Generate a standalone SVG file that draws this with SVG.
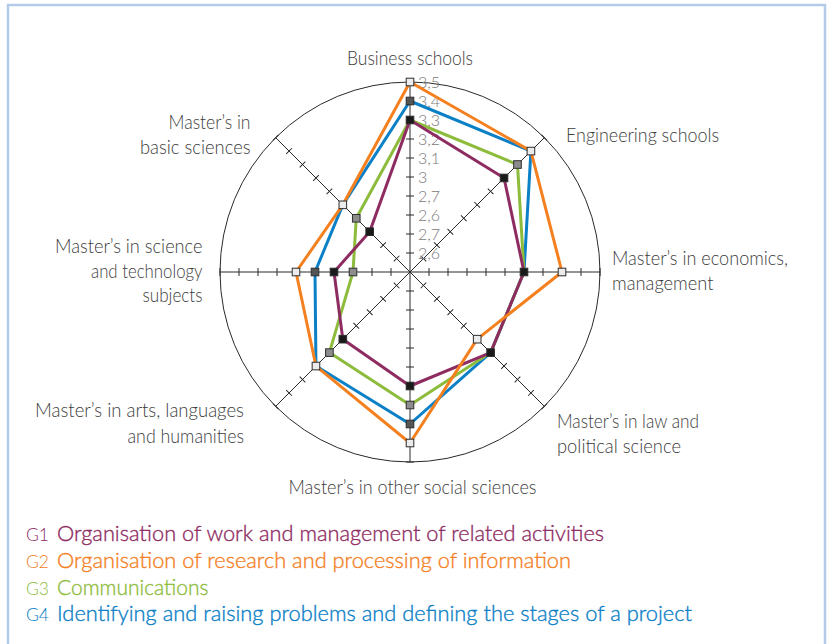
<svg xmlns="http://www.w3.org/2000/svg" width="830" height="644" viewBox="0 0 830 644">
<style>
.lbl{font-family:Lato,"Liberation Sans",Arial,sans-serif;font-weight:300;font-size:20px;fill:#3c3c3c}
.tk{font-family:Lato,"Liberation Sans",Arial,sans-serif;font-weight:300;font-size:16px;fill:#7a7a7a}
.axis{stroke:#2a2a2a;stroke-width:1;fill:none}
.ticks{stroke:#2a2a2a;stroke-width:8;stroke-dasharray:1 18;fill:none}
.ser{fill:none;stroke-width:3;stroke-linejoin:round}
.g1{stroke:#8e2c62}.g2{stroke:#f4801f}.g3{stroke:#8dbc3c}.g4{stroke:#0b80c6}
.m{stroke:#2e2e2e;stroke-width:1}
.leg{font-family:Lato,"Liberation Sans",Arial,sans-serif;font-weight:300;font-size:21px;stroke-width:0.35}
.legn{font-family:Lato,"Liberation Sans",Arial,sans-serif;font-weight:300;font-size:18px}
</style>
<defs>
<rect id="mk" x="-3.8" y="-3.8" width="7.6" height="7.6"/>
</defs>
<rect width="830" height="644" fill="#ffffff"/>
<path d="M8,644 V5 H825 V644" fill="none" stroke="#b3cae8" stroke-width="2.5"/>

<g id="grid">
<circle cx="410" cy="272" r="190" class="axis" stroke-width="1.2"/>
<line x1="410" y1="82" x2="410" y2="462" class="axis" stroke="#555" stroke-width="1.4"/>
<line x1="220" y1="272" x2="600" y2="272" class="axis"/>
<line x1="275.65" y1="137.65" x2="544.35" y2="406.35" class="axis"/>
<line x1="275.65" y1="406.35" x2="544.35" y2="137.65" class="axis"/>
<line x1="410" y1="253.5" x2="410" y2="81.5" class="ticks"/>
<line x1="410" y1="290.5" x2="410" y2="462.5" class="ticks"/>
<line x1="428.5" y1="272" x2="600.5" y2="272" class="ticks"/>
<line x1="391.5" y1="272" x2="219.5" y2="272" class="ticks"/>
<line x1="423.08" y1="258.92" x2="544.7" y2="137.3" class="ticks"/>
<line x1="423.08" y1="285.08" x2="544.7" y2="406.7" class="ticks"/>
<line x1="396.92" y1="285.08" x2="275.3" y2="406.7" class="ticks"/>
<line x1="396.92" y1="258.92" x2="275.3" y2="137.3" class="ticks"/>
</g>

<g id="scale-labels" class="tk">
<text x="418" y="88">3,5</text>
<text x="418" y="107">3,4</text>
<text x="418" y="126">3,3</text>
<text x="418" y="145">3,2</text>
<text x="418" y="164">3,1</text>
<text x="418" y="183">3</text>
<text x="418" y="202">2,7</text>
<text x="418" y="221">2,6</text>
<text x="418" y="240">2,7</text>
<text x="418" y="259">2,6</text>
</g>

<g id="series-lines">
<polygon class="ser g4" points="410,101 530.92,151.08 524,272 490.61,352.61 410,424 315.95,366.05 315,272 342.82,204.82"/>
<polygon class="ser g3" points="410,120 517.48,164.52 524,272 490.61,352.61 410,405 329.39,352.61 353,272 356.26,218.26"/>
<polygon class="ser g1" points="410,120 504.05,177.95 524,272 490.61,352.61 410,386 342.82,339.18 334,272 369.69,231.69"/>
<polygon class="ser g2" points="410,82 530.92,151.08 562,272 477.18,339.18 410,443 315.95,366.05 296,272 342.82,204.82"/>
</g>

<g id="markers" class="m">
<g fill="#555555">
<use href="#mk" x="410" y="101"/><use href="#mk" x="410" y="424"/><use href="#mk" x="315" y="272"/>
</g>
<g fill="#8c8c8c">
<use href="#mk" x="517.48" y="164.52"/><use href="#mk" x="410" y="405"/><use href="#mk" x="329.39" y="352.61"/><use href="#mk" x="353" y="272"/><use href="#mk" x="356.26" y="218.26"/>
</g>
<g fill="#ececec">
<use href="#mk" x="410" y="82"/><use href="#mk" x="530.92" y="151.08"/><use href="#mk" x="562" y="272"/><use href="#mk" x="477.18" y="339.18"/><use href="#mk" x="410" y="443"/><use href="#mk" x="315.95" y="366.05"/><use href="#mk" x="296" y="272"/><use href="#mk" x="342.82" y="204.82"/>
</g>
<g fill="#1a1a1a">
<use href="#mk" x="410" y="120"/><use href="#mk" x="504.05" y="177.95"/><use href="#mk" x="524" y="272"/><use href="#mk" x="490.61" y="352.61"/><use href="#mk" x="410" y="386"/><use href="#mk" x="342.82" y="339.18"/><use href="#mk" x="334" y="272"/><use href="#mk" x="369.69" y="231.69"/>
</g>
</g>

<g id="axis-labels" class="lbl">
<text x="347" y="65" textLength="126" lengthAdjust="spacingAndGlyphs">Business schools</text>
<text x="566" y="142" textLength="153" lengthAdjust="spacingAndGlyphs">Engineering schools</text>
<text x="612" y="265" textLength="176" lengthAdjust="spacingAndGlyphs">Master’s in economics,</text>
<text x="612" y="290" textLength="101.5" lengthAdjust="spacingAndGlyphs">management</text>
<text x="557" y="428" textLength="142" lengthAdjust="spacingAndGlyphs">Master’s in law and</text>
<text x="557" y="453" textLength="124" lengthAdjust="spacingAndGlyphs">political science</text>
<text x="288.5" y="494" textLength="248" lengthAdjust="spacingAndGlyphs">Master’s in other social sciences</text>
<text x="35" y="417" textLength="209" lengthAdjust="spacingAndGlyphs">Master’s in arts, languages</text>
<text x="127.5" y="443" textLength="116.5" lengthAdjust="spacingAndGlyphs">and humanities</text>
<text x="55" y="253" textLength="147.5" lengthAdjust="spacingAndGlyphs">Master’s in science</text>
<text x="91" y="278" textLength="111.5" lengthAdjust="spacingAndGlyphs">and technology</text>
<text x="142.5" y="302" textLength="60" lengthAdjust="spacingAndGlyphs">subjects</text>
<text x="168.5" y="129" textLength="82" lengthAdjust="spacingAndGlyphs">Master’s in</text>
<text x="140" y="154" textLength="110.5" lengthAdjust="spacingAndGlyphs">basic sciences</text>
</g>

<g id="legend">
<g fill="#8e2c62" stroke="#8e2c62">
<text class="legn" x="26" y="541" textLength="23" lengthAdjust="spacingAndGlyphs" stroke="none">G1</text>
<text class="leg" x="57" y="541" textLength="547" lengthAdjust="spacingAndGlyphs">Organisation of work and management of related activities</text>
</g>
<g fill="#f4801f" stroke="#f4801f">
<text class="legn" x="26" y="568" textLength="23" lengthAdjust="spacingAndGlyphs" stroke="none">G2</text>
<text class="leg" x="57" y="568" textLength="514" lengthAdjust="spacingAndGlyphs">Organisation of research and processing of information</text>
</g>
<g fill="#8dbc3c" stroke="#8dbc3c">
<text class="legn" x="26" y="595" textLength="23" lengthAdjust="spacingAndGlyphs" stroke="none">G3</text>
<text class="leg" x="57" y="595" textLength="151.5" lengthAdjust="spacingAndGlyphs">Communications</text>
</g>
<g fill="#0b80c6" stroke="#0b80c6">
<text class="legn" x="26" y="621" textLength="23" lengthAdjust="spacingAndGlyphs" stroke="none">G4</text>
<text class="leg" x="57" y="621" textLength="635" lengthAdjust="spacingAndGlyphs">Identifying and raising problems and defining the stages of a project</text>
</g>
</g>
</svg>
